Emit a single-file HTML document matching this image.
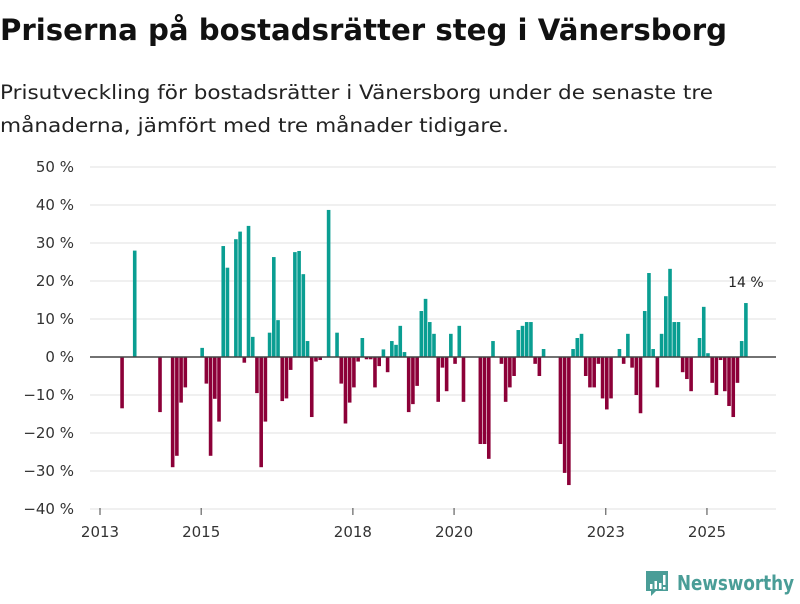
<!DOCTYPE html>
<html><head><meta charset="utf-8">
<style>
html,body{margin:0;padding:0;background:#fff;}
body{width:800px;height:600px;overflow:hidden;font-family:"DejaVu Sans","Liberation Sans",sans-serif;}
svg text{font-family:"DejaVu Sans","Liberation Sans",sans-serif;}
</style></head>
<body>
<svg id="chart" width="800" height="600" viewBox="0 0 800 600" xmlns="http://www.w3.org/2000/svg">
  <text x="0" y="40" font-size="29" font-weight="bold" fill="#111" textLength="727" lengthAdjust="spacingAndGlyphs">Priserna på bostadsrätter steg i Vänersborg</text>
  <text x="0" y="99" font-size="19.5" fill="#222" textLength="713" lengthAdjust="spacingAndGlyphs">Prisutveckling för bostadsrätter i Vänersborg under de senaste tre</text>
  <text x="0" y="132" font-size="19.5" fill="#222" textLength="509" lengthAdjust="spacingAndGlyphs">månaderna, jämfört med tre månader tidigare.</text>
  <g id="grid"></g>
  <g id="yticks"></g>
  <g id="xticks"></g>
  <g id="bars"></g>
  <line id="zero" x1="90" x2="776" stroke="#444" stroke-width="1.5"/>
  <text id="anno" font-size="14" fill="#222" text-anchor="middle">14 %</text>
  <g>
    <path d="M646 571 h22 v20 h-12 l-5 5 v-5 h-5 z" fill="#4a9d97"/>
    <rect x="650" y="584" width="2.5" height="5" fill="#fff"/>
    <rect x="654.5" y="581" width="2.5" height="8" fill="#fff"/>
    <rect x="659" y="583" width="2.5" height="6" fill="#fff"/>
    <rect x="663" y="575" width="2.5" height="10" fill="#fff"/>
    <rect x="663" y="587" width="2.5" height="2.5" fill="#fff"/>
    <text x="677" y="590" font-size="20" font-weight="bold" fill="#4a9d97" textLength="117" lengthAdjust="spacingAndGlyphs">Newsworthy</text>
  </g>
</svg>
<script>
const values = [0,0,0,0,0,-13.5,0,0,28,0,0,0,0,0,-14.5,0,0,-29,-26,-12,-8,0,0,0,2.4,-7,-26,-11,-17,29.2,23.5,0,31,33,-1.5,34.5,5.3,-9.5,-29,-17,6.4,26.3,9.7,-11.6,-10.9,-3.4,27.6,27.9,21.8,4.2,-15.8,-1.2,-0.8,0,38.7,0,6.4,-7,-17.5,-12,-8,-1.2,5,-0.6,-0.6,-8,-2.4,2,-4,4.2,3.2,8.2,1.3,-14.5,-12.4,-7.6,12.1,15.3,9.2,6.1,-11.8,-2.8,-9,6.1,-1.8,8.2,-11.8,0,0,0,-22.9,-22.9,-26.8,4.2,0,-1.8,-11.8,-8,-5,7.1,8.2,9.2,9.2,-1.8,-5,2.1,0,0,0,-22.9,-30.5,-33.7,2.1,5,6.1,-5,-8,-8,-1.8,-10.9,-13.8,-10.9,0,2.1,-1.8,6.1,-2.8,-10,-14.8,12.1,22.1,2.1,-8,6.1,16,23.2,9.2,9.2,-4,-5.8,-9,0,5,13.2,1,-6.8,-10,-0.8,-9,-12.9,-15.8,-6.8,4.2,14.2];
const startYear = 2013;
const yTicks = [50,40,30,20,10,0,-10,-20,-30,-40];
const xTickYears = [2013,2015,2018,2020,2023,2025];

const NS="http://www.w3.org/2000/svg";
function y(v){ return 357 - v*3.8; }
function x(i){ return 100 + i*4.215; }
function xYear(yr){ return x((yr-startYear)*12); }

const grid=document.getElementById('grid'), yt=document.getElementById('yticks');
yTicks.forEach(t=>{
  const l=document.createElementNS(NS,'line');
  
  
  l.setAttribute('x1',90);l.setAttribute('x2',776);l.setAttribute('y1',y(t));l.setAttribute('y2',y(t));
  l.setAttribute('stroke','#e0e0e0');l.setAttribute('stroke-width','1');
  grid.appendChild(l);
  const tx=document.createElementNS(NS,'text');
  
  
  tx.setAttribute('x',74);tx.setAttribute('y',y(t)+5);tx.setAttribute('text-anchor','end');
  tx.setAttribute('font-size','15');tx.setAttribute('fill','#333');
  tx.textContent=(t<0?'\u2212'+(-t):t)+' %';
  yt.appendChild(tx);
});
const xt=document.getElementById('xticks');
xTickYears.forEach(yr=>{
  const px=xYear(yr);
  const l=document.createElementNS(NS,'line');
  
  
  l.setAttribute('x1',px);l.setAttribute('x2',px);l.setAttribute('y1',508);l.setAttribute('y2',515);
  l.setAttribute('stroke','#444');
  xt.appendChild(l);
  const tx=document.createElementNS(NS,'text');
  
  
  tx.setAttribute('x',px);tx.setAttribute('y',537);tx.setAttribute('text-anchor','middle');
  tx.setAttribute('font-size','15');tx.setAttribute('fill','#333');
  tx.textContent=yr;
  xt.appendChild(tx);
});
const bars=document.getElementById('bars');
values.forEach((v,i)=>{
  if(v===0) return;
  const r=document.createElementNS(NS,'rect');
  
  
  const top=Math.min(y(v),y(0)), h=Math.abs(y(v)-y(0));
  r.setAttribute('x',x(i)-0.8);r.setAttribute('width',3.6);
  r.setAttribute('y',top);r.setAttribute('height',h);
  r.setAttribute('fill',v>0?'#0a9e92':'#8c0038');
  bars.appendChild(r);
});
const z=document.getElementById('zero');
z.setAttribute('y1',y(0));z.setAttribute('y2',y(0));
const last=values.length-1;
const an=document.getElementById('anno');
an.setAttribute('x',x(last)+1);
an.setAttribute('y',y(values[last])-16);
an.textContent=Math.round(values[last])+' %';
</script>
</body></html>
